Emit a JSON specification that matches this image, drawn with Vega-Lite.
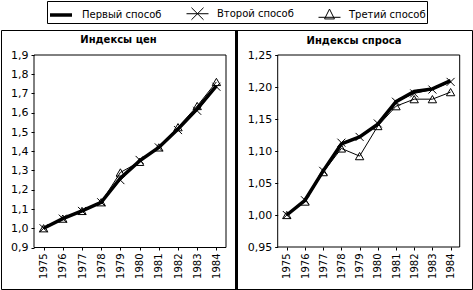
{
  "$schema": "https://vega.github.io/schema/vega-lite/v6.json",
  "padding": 0,
  "background": "white",
  "spacing": 0,
  "bounds": "flush",
  "config": {
    "locale": {"number": {"decimal": ",", "thousands": " ", "grouping": [3], "currency": ["", ""]}},
    "font": "DejaVu Sans",
    "view": {"stroke": "black", "strokeWidth": 1},
    "axis": {"labelColor": "black", "tickColor": "black", "domainColor": "black", "labelFont": "DejaVu Sans", "grid": false, "title": null, "labelOverlap": false},
    "title": {"fontSize": 10, "fontWeight": "bold", "color": "black", "font": "DejaVu Sans", "anchor": "middle", "frame": "group", "offset": -16},
    "legend": {
      "orient": "none", "legendX": 46, "legendY": -29, "direction": "horizontal",
      "symbolSize": 484, "symbolStrokeColor": "black", "symbolFillColor": "transparent",
      "labelFontSize": 10, "labelColor": "black", "labelFont": "DejaVu Sans", "labelOffset": 8,
      "columnPadding": 22, "padding": 1, "strokeColor": "black", "fillColor": "white", "title": null
    }
  },
  "datasets": {
    "prices": [
      {"year": 1975, "method": "Первый способ", "value": 1.0},
      {"year": 1976, "method": "Первый способ", "value": 1.05},
      {"year": 1977, "method": "Первый способ", "value": 1.09},
      {"year": 1978, "method": "Первый способ", "value": 1.135},
      {"year": 1979, "method": "Первый способ", "value": 1.26},
      {"year": 1980, "method": "Первый способ", "value": 1.35},
      {"year": 1981, "method": "Первый способ", "value": 1.42},
      {"year": 1982, "method": "Первый способ", "value": 1.515},
      {"year": 1983, "method": "Первый способ", "value": 1.62},
      {"year": 1984, "method": "Первый способ", "value": 1.74},
      {"year": 1975, "method": "Второй способ", "value": 1.0},
      {"year": 1976, "method": "Второй способ", "value": 1.05},
      {"year": 1977, "method": "Второй способ", "value": 1.09},
      {"year": 1978, "method": "Второй способ", "value": 1.135},
      {"year": 1979, "method": "Второй способ", "value": 1.25},
      {"year": 1980, "method": "Второй способ", "value": 1.355},
      {"year": 1981, "method": "Второй способ", "value": 1.42},
      {"year": 1982, "method": "Второй способ", "value": 1.51},
      {"year": 1983, "method": "Второй способ", "value": 1.61},
      {"year": 1984, "method": "Второй способ", "value": 1.735},
      {"year": 1975, "method": "Третий способ", "value": 1.0},
      {"year": 1976, "method": "Третий способ", "value": 1.05},
      {"year": 1977, "method": "Третий способ", "value": 1.09},
      {"year": 1978, "method": "Третий способ", "value": 1.135},
      {"year": 1979, "method": "Третий способ", "value": 1.29},
      {"year": 1980, "method": "Третий способ", "value": 1.345},
      {"year": 1981, "method": "Третий способ", "value": 1.42},
      {"year": 1982, "method": "Третий способ", "value": 1.525},
      {"year": 1983, "method": "Третий способ", "value": 1.635},
      {"year": 1984, "method": "Третий способ", "value": 1.76}
    ],
    "demand": [
      {"year": 1975, "method": "Первый способ", "value": 1.0},
      {"year": 1976, "method": "Первый способ", "value": 1.023},
      {"year": 1977, "method": "Первый способ", "value": 1.069},
      {"year": 1978, "method": "Первый способ", "value": 1.111},
      {"year": 1979, "method": "Первый способ", "value": 1.122},
      {"year": 1980, "method": "Первый способ", "value": 1.142},
      {"year": 1981, "method": "Первый способ", "value": 1.177},
      {"year": 1982, "method": "Первый способ", "value": 1.193},
      {"year": 1983, "method": "Первый способ", "value": 1.197},
      {"year": 1984, "method": "Первый способ", "value": 1.21},
      {"year": 1975, "method": "Второй способ", "value": 1.0},
      {"year": 1976, "method": "Второй способ", "value": 1.023},
      {"year": 1977, "method": "Второй способ", "value": 1.069},
      {"year": 1978, "method": "Второй способ", "value": 1.113},
      {"year": 1979, "method": "Второй способ", "value": 1.122},
      {"year": 1980, "method": "Второй способ", "value": 1.143},
      {"year": 1981, "method": "Второй способ", "value": 1.177},
      {"year": 1982, "method": "Второй способ", "value": 1.19},
      {"year": 1983, "method": "Второй способ", "value": 1.196},
      {"year": 1984, "method": "Второй способ", "value": 1.208},
      {"year": 1975, "method": "Третий способ", "value": 1.0},
      {"year": 1976, "method": "Третий способ", "value": 1.021},
      {"year": 1977, "method": "Третий способ", "value": 1.067},
      {"year": 1978, "method": "Третий способ", "value": 1.104},
      {"year": 1979, "method": "Третий способ", "value": 1.092},
      {"year": 1980, "method": "Третий способ", "value": 1.139},
      {"year": 1981, "method": "Третий способ", "value": 1.17},
      {"year": 1982, "method": "Третий способ", "value": 1.181},
      {"year": 1983, "method": "Третий способ", "value": 1.181},
      {"year": 1984, "method": "Третий способ", "value": 1.192}
    ]
  },
  "hconcat": [
    {
      "width": 235,
      "height": 259,
      "title": "Индексы цен",
      "data": {"name": "prices"},
      "layer": [
        {
          "data": {"values": [{}]},
          "mark": {"type": "rect", "fill": null, "stroke": "black", "strokeWidth": 1},
          "encoding": {
            "x": {"datum": 1974.5, "type": "quantitative"},
            "x2": {"datum": 1984.5},
            "y": {"datum": 0.9, "type": "quantitative"},
            "y2": {"datum": 1.9}
          }
        },
        {
          "transform": [{"filter": "datum.method === 'Первый способ'"}],
          "mark": {"type": "line", "color": "black", "strokeWidth": 3.5},
          "encoding": {
            "x": {"field": "year", "type": "quantitative",
                  "scale": {"domain": [1974.5, 1984.5], "range": [33, 225], "nice": false, "zero": false},
                  "axis": {"orient": "bottom", "offset": -42, "values": [1975, 1976, 1977, 1978, 1979, 1980, 1981, 1982, 1983, 1984], "tickCount": 50, "format": "d", "labelAngle": 270, "labelFontSize": 10, "tickSize": 3, "labelPadding": 3, "domain": false, "labelOverlap": false, "labelBound": false, "labelFlush": false}},
            "y": {"field": "value", "type": "quantitative",
                  "scale": {"domain": [0.9, 1.9], "range": [217.5, 25], "nice": false, "zero": false},
                  "axis": {"orient": "left", "offset": -33, "values": [0.9, 1.0, 1.1, 1.2, 1.3, 1.4, 1.5, 1.6, 1.7, 1.8, 1.9], "tickCount": 50, "format": ".1f", "labelFontSize": 11, "tickSize": 3, "labelPadding": 3, "domain": false, "labelOverlap": false, "labelBound": false, "labelFlush": false}}
          }
        },
        {
          "transform": [{"filter": "datum.method !== 'Первый способ'"}],
          "mark": {"type": "line", "color": "black", "strokeWidth": 1},
          "encoding": {
            "x": {"field": "year", "type": "quantitative"},
            "y": {"field": "value", "type": "quantitative"},
            "detail": {"field": "method"}
          }
        },
        {
          "transform": [{"filter": "datum.method === 'Второй способ'"}],
          "mark": {"type": "point", "shape": "M-1,-1L1,1M-1,1L1,-1", "size": 64, "stroke": "black", "strokeWidth": 1, "filled": false, "opacity": 1},
          "encoding": {
            "x": {"field": "year", "type": "quantitative"},
            "y": {"field": "value", "type": "quantitative"}
          }
        },
        {
          "transform": [{"filter": "datum.method === 'Третий способ'"}],
          "mark": {"type": "point", "shape": "triangle-up", "size": 70, "stroke": "black", "strokeWidth": 1, "filled": false, "opacity": 1},
          "encoding": {
            "x": {"field": "year", "type": "quantitative"},
            "y": {"field": "value", "type": "quantitative"}
          }
        },
        {
          "data": {"values": [{}]},
          "mark": {"type": "rule", "color": "black", "strokeWidth": 3},
          "encoding": {
            "x": {"datum": 1985.047, "type": "quantitative"}
          }
        },
        {
          "data": {"values": []},
          "mark": {"type": "point", "filled": false, "stroke": "black", "opacity": 1},
          "encoding": {
            "shape": {"field": "method", "type": "nominal",
                      "scale": {"domain": ["Первый способ", "Второй способ", "Третий способ"],
                                "range": ["M-1,0H1", "M-1,0H1M-0.55,-0.55L0.55,0.55M-0.55,0.55L0.55,-0.55", "M-1,0.25H1M0,-0.5L0.45,0.4L-0.45,0.4Z"]},
                      "legend": {"title": null}},
            "strokeWidth": {"field": "method", "type": "nominal",
                      "scale": {"type": "ordinal", "domain": ["Первый способ", "Второй способ", "Третий способ"], "range": [3.5, 1, 1]},
                      "legend": {"title": null}}
          }
        }
      ]
    },
    {
      "width": 236,
      "height": 259,
      "title": "Индексы спроса",
      "data": {"name": "demand"},
      "layer": [
        {
          "data": {"values": [{}]},
          "mark": {"type": "rect", "fill": null, "stroke": "black", "strokeWidth": 1},
          "encoding": {
            "x": {"datum": 1974.5, "type": "quantitative"},
            "x2": {"datum": 1984.5},
            "y": {"datum": 0.95, "type": "quantitative"},
            "y2": {"datum": 1.25}
          }
        },
        {
          "transform": [{"filter": "datum.method === 'Первый способ'"}],
          "mark": {"type": "line", "color": "black", "strokeWidth": 3.5},
          "encoding": {
            "x": {"field": "year", "type": "quantitative",
                  "scale": {"domain": [1974.5, 1984.5], "range": [41.7, 223.7], "nice": false, "zero": false},
                  "axis": {"orient": "bottom", "offset": -42, "values": [1975, 1976, 1977, 1978, 1979, 1980, 1981, 1982, 1983, 1984], "tickCount": 50, "format": "d", "labelAngle": 270, "labelFontSize": 10, "tickSize": 3, "labelPadding": 3, "domain": false, "labelOverlap": false, "labelBound": false, "labelFlush": false}},
            "y": {"field": "value", "type": "quantitative",
                  "scale": {"domain": [0.95, 1.25], "range": [217, 25], "nice": false, "zero": false},
                  "axis": {"orient": "left", "offset": -41.7, "values": [0.95, 1.0, 1.05, 1.1, 1.15, 1.2, 1.25], "tickCount": 50, "format": ".2f", "labelFontSize": 11, "tickSize": 3, "labelPadding": 3, "domain": false, "labelOverlap": false, "labelBound": false, "labelFlush": false}}
          }
        },
        {
          "transform": [{"filter": "datum.method !== 'Первый способ'"}],
          "mark": {"type": "line", "color": "black", "strokeWidth": 1},
          "encoding": {
            "x": {"field": "year", "type": "quantitative"},
            "y": {"field": "value", "type": "quantitative"},
            "detail": {"field": "method"}
          }
        },
        {
          "transform": [{"filter": "datum.method === 'Второй способ'"}],
          "mark": {"type": "point", "shape": "M-1,-1L1,1M-1,1L1,-1", "size": 64, "stroke": "black", "strokeWidth": 1, "filled": false, "opacity": 1},
          "encoding": {
            "x": {"field": "year", "type": "quantitative"},
            "y": {"field": "value", "type": "quantitative"}
          }
        },
        {
          "transform": [{"filter": "datum.method === 'Третий способ'"}],
          "mark": {"type": "point", "shape": "triangle-up", "size": 70, "stroke": "black", "strokeWidth": 1, "filled": false, "opacity": 1},
          "encoding": {
            "x": {"field": "year", "type": "quantitative"},
            "y": {"field": "value", "type": "quantitative"}
          }
        }
      ]
    }
  ]
}
